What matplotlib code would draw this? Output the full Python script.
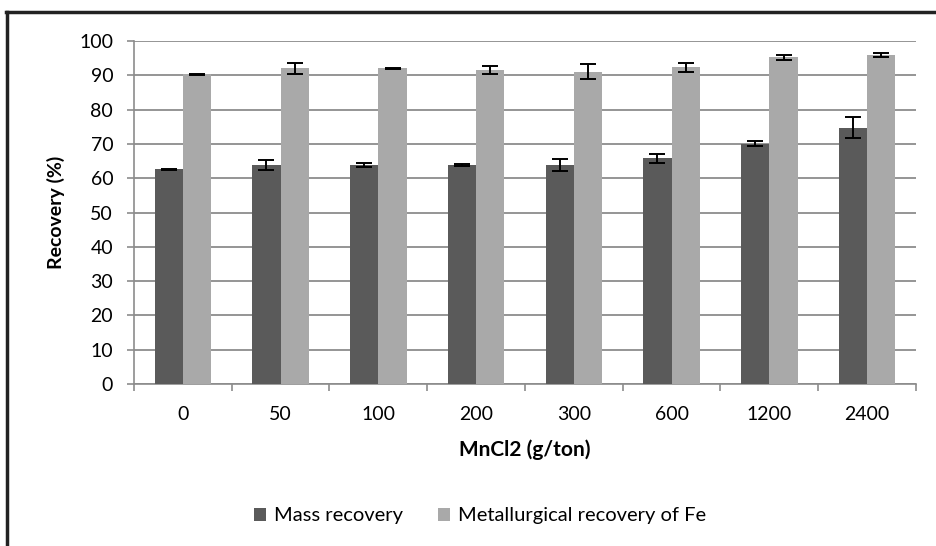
"""Recovery (%) vs MnCl2 dosage: mass recovery and metallurgical recovery of Fe."""

import matplotlib
matplotlib.use("Agg")
import matplotlib.pyplot as plt
from matplotlib.lines import Line2D
import numpy as np

DOSAGE = ["0", "50", "100", "200", "300", "600", "1200", "2400"]
MASS = [62.6, 63.8, 63.8, 63.9, 63.8, 65.8, 70.1, 74.7]
MASS_ERR = [0.2, 1.5, 0.6, 0.2, 1.8, 1.4, 0.7, 3.0]
FE = [90.3, 92.0, 92.0, 91.5, 91.1, 92.4, 95.2, 95.9]
FE_ERR = [0.2, 1.7, 0.2, 1.1, 2.2, 1.3, 0.6, 0.6]

DARK = "#5a5a5a"
LIGHT = "#a9a9a9"
GRID = "#8c8c8c"

plt.rcParams["font.family"] = ["Lato", "DejaVu Sans"]

fig = plt.figure(figsize=(9.37, 5.46), dpi=100)
W, H = 937, 546
ax = fig.add_axes([134 / W, 1 - 384 / H, (916 - 134) / W, (384 - 41) / H])

x = np.arange(len(DOSAGE))
bw = 0.29
err_kw = dict(ecolor="black", elinewidth=1.4, capsize=5.5, capthick=1.4)
ax.bar(x - bw / 2, MASS, bw, color=DARK, yerr=MASS_ERR, error_kw=err_kw,
       label="Mass recovery", zorder=3)
ax.bar(x + bw / 2, FE, bw, color=LIGHT, yerr=FE_ERR, error_kw=err_kw,
       label="Metallurgical recovery of Fe", zorder=3)

ax.set_xlim(-0.5, len(DOSAGE) - 0.5)
ax.set_ylim(0, 100)
ax.set_yticks(range(0, 101, 10))
ax.yaxis.grid(True, color=GRID, linewidth=1.3, zorder=0)
ax.set_axisbelow(True)

# category labels centred, tick marks on the boundaries
ax.set_xticks(x)
ax.set_xticklabels(DOSAGE, fontsize=14)
ax.tick_params(axis="x", length=0, pad=16)
ax.set_xticks(np.arange(-0.5, len(DOSAGE)), minor=True)
ax.tick_params(axis="x", which="minor", length=5, color=GRID, width=1.2)
ax.tick_params(axis="y", length=5, color=GRID, width=1.2, labelsize=14, pad=10)

for s in ("top", "right"):
    ax.spines[s].set_visible(False)
for s in ("left", "bottom"):
    ax.spines[s].set_color(GRID)
    ax.spines[s].set_linewidth(1.2)

ax.set_ylabel("Recovery (%)", fontsize=14, fontweight="bold", labelpad=10)
ax.set_xlabel("MnCl2 (g/ton)", fontsize=15, fontweight="bold", labelpad=12)

fig.legend(loc="center", bbox_to_anchor=(480 / W, 1 - 516 / H), ncol=2,
           frameon=False, fontsize=14.5, handlelength=0.6, handleheight=0.6,
           handletextpad=0.4, columnspacing=1.7)

# outer frame (top and left edges visible in the source)
fig.add_artist(Line2D([7 / W, 7 / W], [0, 1 - 12 / H], transform=fig.transFigure,
                      color="#222222", linewidth=2.5))
fig.add_artist(Line2D([6 / W, 1], [1 - 12 / H, 1 - 12 / H], transform=fig.transFigure,
                      color="#222222", linewidth=2.5))

fig.savefig("out.png", dpi=100)
